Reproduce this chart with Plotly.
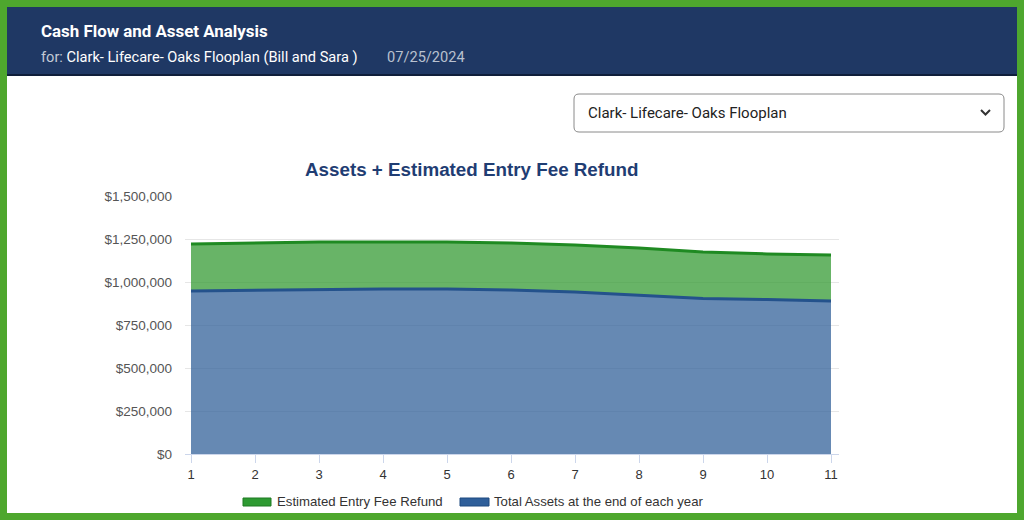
import plotly.graph_objects as go

# ---- data ----
years = [1, 2, 3, 4, 5, 6, 7, 8, 9, 10, 11]
total_assets = [948000, 953000, 956000, 959000, 959000, 953000, 942000, 924000, 904000, 898000, 890000]
entry_fee_refund = [273000, 274000, 277000, 274000, 274000, 274000, 273000, 274000, 270000, 265000, 267000]
y_ticks = [0, 250000, 500000, 750000, 1000000, 1250000, 1500000]
legend_names = ["Estimated Entry Fee Refund", "Total Assets at the end of each year"]

W, H = 1024, 520
L, R, T, B = 185, 839, 196, 454  # plot area in px


def px(x):
    return (x - L) / (R - L)


def py(y):
    return (B - y) / (B - T)


fig = go.Figure()
fig.add_trace(go.Scatter(
    x=years, y=total_assets, stackgroup="s", mode="lines",
    name=legend_names[1],
    line=dict(color="#24528c", width=3),
    fillcolor="rgba(51,98,154,0.75)", showlegend=False,
))
fig.add_trace(go.Scatter(
    x=years, y=entry_fee_refund, stackgroup="s", mode="lines",
    name=legend_names[0],
    line=dict(color="#1f8a22", width=3),
    fillcolor="rgba(54,155,52,0.75)", showlegend=False,
))

shapes = [
    # white card over green border
    dict(type="rect", xref="paper", yref="paper", x0=px(7), x1=px(1017), y0=py(513), y1=py(7),
         fillcolor="white", line=dict(width=0), layer="below"),
    # header band
    dict(type="rect", xref="paper", yref="paper", x0=px(7), x1=px(1017), y0=py(75), y1=py(7),
         fillcolor="#1f3864", line=dict(width=0), layer="below"),
    dict(type="rect", xref="paper", yref="paper", x0=px(7), x1=px(1017), y0=py(76), y1=py(74),
         fillcolor="#0f1e3a", line=dict(width=0), layer="below"),
]

# rounded dropdown box
x0, x1, y0, y1, r = 574, 1004, 94, 132, 5
path = (f"M {px(x0 + r)},{py(y0)} L {px(x1 - r)},{py(y0)} Q {px(x1)},{py(y0)} {px(x1)},{py(y0 + r)} "
        f"L {px(x1)},{py(y1 - r)} Q {px(x1)},{py(y1)} {px(x1 - r)},{py(y1)} "
        f"L {px(x0 + r)},{py(y1)} Q {px(x0)},{py(y1)} {px(x0)},{py(y1 - r)} "
        f"L {px(x0)},{py(y0 + r)} Q {px(x0)},{py(y0)} {px(x0 + r)},{py(y0)} Z")
shapes.append(dict(type="path", xref="paper", yref="paper", path=path,
                   line=dict(color="#8a8a8a", width=1), fillcolor="white", layer="below"))
# chevron
shapes.append(dict(type="path", xref="paper", yref="paper",
                   path=f"M {px(981)},{py(110)} L {px(985.5)},{py(114.5)} L {px(990)},{py(110)}",
                   line=dict(color="#333333", width=2)))

# custom legend swatches
shapes.append(dict(type="rect", xref="paper", yref="paper", x0=px(243), x1=px(271), y0=py(506), y1=py(498),
                   fillcolor="#2e9a32", line=dict(color="#1f7a22", width=1)))
shapes.append(dict(type="rect", xref="paper", yref="paper", x0=px(460), x1=px(489), y0=py(506), y1=py(498),
                   fillcolor="#2f5f9a", line=dict(color="#1f4a80", width=1)))

ann = [
    dict(text="<b>Cash Flow and Asset Analysis</b>", x=px(39), y=py(31), xanchor="left", yanchor="middle",
         font=dict(family="Roboto", size=16.9, color="white")),
    dict(text="<span style='color:#c3cad6'>for:</span> Clark- Lifecare- Oaks Flooplan (Bill and Sara )",
         x=px(39), y=py(57), xanchor="left", yanchor="middle",
         font=dict(family="Roboto", size=14.6, color="white")),
    dict(text="07/25/2024", x=px(385), y=py(57), xanchor="left", yanchor="middle",
         font=dict(family="Roboto", size=14.6, color="#b9c1cf")),
    dict(text="Clark- Lifecare- Oaks Flooplan", x=px(586), y=py(113), xanchor="left", yanchor="middle",
         font=dict(family="Roboto", size=15, color="#222222")),
    dict(text="<b>Assets + Estimated Entry Fee Refund</b>", x=px(471.5), y=py(169), xanchor="center",
         yanchor="middle", font=dict(family="Liberation Sans", size=18.8, color="#1f3d73")),
    dict(text=legend_names[0], x=px(275), y=py(502), xanchor="left", yanchor="middle",
         font=dict(family="Liberation Sans", size=13.2, color="#333333")),
    dict(text=legend_names[1], x=px(492), y=py(502), xanchor="left", yanchor="middle",
         font=dict(family="Liberation Sans", size=13.2, color="#333333")),
]
for a in ann:
    a.update(xref="paper", yref="paper", showarrow=False)

fig.update_layout(
    width=W, height=H,
    margin=dict(l=L, r=W - R, t=T, b=H - B, pad=0, autoexpand=False),
    paper_bgcolor="#4ea72e",
    plot_bgcolor="rgba(0,0,0,0)",
    shapes=shapes,
    annotations=ann,
    showlegend=False,
    xaxis=dict(range=[1 - 6 / 64, 11 + 8 / 64], tickvals=years, ticktext=[str(v) for v in years],
               showgrid=False, zeroline=False, showline=True, linecolor="#ccd6eb", linewidth=1,
               ticks="outside", ticklen=8, tickcolor="#ccd6eb",
               tickfont=dict(family="Liberation Sans", size=13, color="#333333")),
    yaxis=dict(range=[0, 1500000], tickvals=y_ticks, tickformat="$,.0f",
               showgrid=True, gridcolor="#e6e6e6", zeroline=False, showline=False,
               ticks="", ticklabelstandoff=12,
               tickfont=dict(family="Liberation Sans", size=13.5, color="#555555")),
)

fig.write_html("out.html")
